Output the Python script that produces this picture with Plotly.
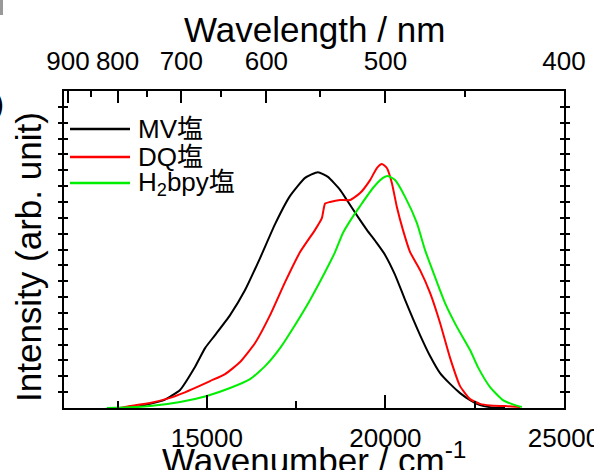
import plotly.graph_objects as go

# ---------------- data ----------------
wavenumber_mv = [12700, 13000, 13400, 13800, 14250, 14650, 14950, 15230, 15650, 16070,
                 16490, 16910, 17330, 17750, 18110, 18390, 18730, 18920, 19230, 19480,
                 19760, 19990, 20270, 20550, 20970, 21250, 21530, 21810, 22090, 22370,
                 22650, 22980, 23350]
intensity_mv = [0.0, 0.003, 0.013, 0.025, 0.057, 0.126, 0.189, 0.23, 0.293, 0.372,
                0.473, 0.58, 0.669, 0.726, 0.744, 0.729, 0.688, 0.656, 0.603, 0.562,
                0.52, 0.483, 0.42, 0.341, 0.23, 0.164, 0.11, 0.076, 0.047, 0.025,
                0.009, 0.002, 0.0]

wavenumber_dq = [12570, 12850, 13410, 13970, 14330, 14720, 15090, 15510, 15930, 16350,
                 16770, 17190, 17610, 18030, 18220, 18310, 18450, 18730, 19010, 19290,
                 19570, 19760, 19900, 20040, 20180, 20320, 20490, 20690, 20970, 21250,
                 21530, 21810, 22090, 22370, 22650, 22930, 23350, 23770]
intensity_dq = [0.0, 0.006, 0.016, 0.032, 0.047, 0.066, 0.085, 0.107, 0.145, 0.205,
                0.293, 0.397, 0.492, 0.562, 0.599, 0.645, 0.65, 0.656, 0.656, 0.678,
                0.719, 0.757, 0.77, 0.757, 0.71, 0.634, 0.562, 0.492, 0.435, 0.363,
                0.268, 0.158, 0.069, 0.028, 0.013, 0.008, 0.006, 0.003]

wavenumber_h2bpy = [12200, 12850, 13410, 14250, 15000, 15650, 16210, 16630, 17050, 17470,
                    17890, 18310, 18590, 18810, 19060, 19290, 19650, 19930, 20070, 20270,
                    20550, 20880, 21110, 21390, 21670, 22000, 22370, 22590, 22930, 23290,
                    23630, 23820]
intensity_h2bpy = [0.0, 0.002, 0.006, 0.019, 0.038, 0.063, 0.091, 0.132, 0.189, 0.262,
                   0.341, 0.429, 0.492, 0.552, 0.599, 0.637, 0.694, 0.726, 0.732, 0.719,
                   0.666, 0.584, 0.498, 0.413, 0.331, 0.256, 0.183, 0.129, 0.066, 0.025,
                   0.009, 0.003]

series_names = ["MV塩", "DQ塩", "H<sub>2</sub>bpy塩"]
series_colors = ["#000000", "#ff0000", "#00ee00"]

wavenumber_ticks = [15000, 20000, 25000]
wavelength_major = [900, 800, 700, 600, 500, 400]
wavelength_minor = [850, 750, 650, 550, 450]

FONT = "Liberation Sans, Arial, Noto Sans CJK JP, sans-serif"

fig = go.Figure()
for xs, ys, name, col in zip([wavenumber_mv, wavenumber_dq, wavenumber_h2bpy],
                             [intensity_mv, intensity_dq, intensity_h2bpy],
                             series_names, series_colors):
    fig.add_trace(go.Scatter(x=xs, y=ys, mode="lines", name=name, showlegend=False,
                             line=dict(color=col, width=2, shape="spline", smoothing=0.5)))

XR = [11000, 25000]
fig.update_layout(
    width=594, height=470,
    margin=dict(l=64, r=30, t=91, b=62, autoexpand=False),
    paper_bgcolor="white", plot_bgcolor="white",
    font=dict(family=FONT, color="black", size=26),
    xaxis=dict(range=XR, tickmode="array", tickvals=wavenumber_ticks,
               ticktext=[str(v) for v in wavenumber_ticks],
               ticks="inside", ticklen=13, tickwidth=2, tickcolor="black",
               minor=dict(ticks="inside", ticklen=7, tickwidth=2, tickcolor="black",
                          dtick=2500, tick0=0),
               showline=True, linewidth=2, linecolor="black", mirror=False,
               showgrid=False, zeroline=False, tickfont=dict(size=26),
               ticklabelstandoff=6, ticklabeloverflow="allow", automargin=False),
    xaxis2=dict(range=XR, overlaying="x", side="top", anchor="y",
                tickmode="array", tickvals=[1e7 / w for w in wavelength_major],
                ticktext=[str(w) for w in wavelength_major],
                ticks="inside", ticklen=12, tickwidth=2, tickcolor="black",
                minor=dict(tickmode="array", tickvals=[1e7 / w for w in wavelength_minor],
                           ticks="inside", ticklen=6, tickwidth=2, tickcolor="black"),
                showline=True, linewidth=2, linecolor="black",
                showgrid=False, zeroline=False, tickfont=dict(size=26),
                ticklabelstandoff=9, ticklabeloverflow="allow", automargin=False),
    yaxis=dict(range=[0, 1], tickmode="linear", tick0=0, dtick=0.05,
               ticks="inside", ticklen=4, tickwidth=1.5, tickcolor="black",
               showticklabels=False, showline=True, linewidth=2, linecolor="black",
               mirror="allticks", showgrid=False, zeroline=False, automargin=False),
)

# empty trace so the top axis is rendered
fig.add_trace(go.Scatter(x=[], y=[], xaxis="x2", yaxis="y", showlegend=False))

def px_x(p):
    return (p - 64) / 500.0

def px_y(p):
    return (408 - p) / 317.0

annotations = [
    dict(text="Wavelength / nm", x=0.5, y=px_y(29), xref="paper", yref="paper",
         xanchor="center", yanchor="middle", showarrow=False, font=dict(size=35)),
    dict(text="Wavenumber / cm<sup>-1</sup>", x=0.5, y=px_y(458), xref="paper", yref="paper",
         xanchor="center", yanchor="middle", showarrow=False, font=dict(size=35)),
    dict(text="Intensity (arb. unit)", x=px_x(28), y=px_y(257), xref="paper", yref="paper",
         xanchor="center", yanchor="middle", textangle=-90, showarrow=False,
         font=dict(size=35)),
    dict(text=")", x=px_x(6), y=px_y(103), xref="paper", yref="paper",
         xanchor="right", yanchor="middle", showarrow=False, font=dict(size=30)),
]
shapes = [dict(type="rect", xref="paper", yref="paper", x0=px_x(0), x1=px_x(3),
               y0=px_y(0), y1=px_y(15), fillcolor="#999999", line=dict(width=0))]

legend_rows = [129, 157, 183]
for name, col, row in zip(series_names, series_colors, legend_rows):
    shapes.append(dict(type="line", xref="paper", yref="paper",
                       x0=px_x(70), x1=px_x(130), y0=px_y(row), y1=px_y(row),
                       line=dict(color=col, width=2.5)))
    annotations.append(dict(text=name, x=px_x(136), y=px_y(row), xref="paper", yref="paper",
                            xanchor="left", yanchor="middle", showarrow=False,
                            font=dict(size=26)))

fig.update_layout(annotations=annotations, shapes=shapes)
fig.write_html("out.html", config={"displayModeBar": False},
               post_script="document.body.style.margin='0px';")
